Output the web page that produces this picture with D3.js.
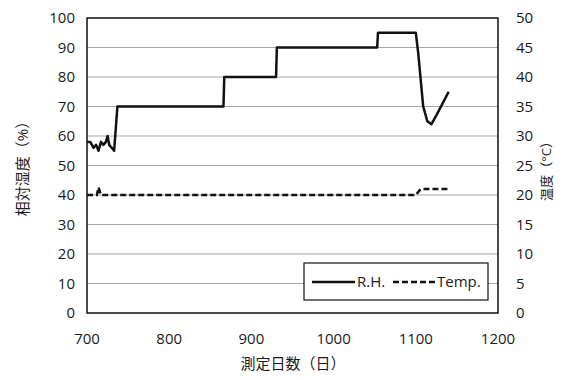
<!DOCTYPE html>
<html>
<head>
<meta charset="utf-8">
<script src="https://cdn.jsdelivr.net/npm/d3@7"></script>
<style>
  body { margin: 0; background: #fff; }
  svg text { font-family: "Open Sans", "Noto Sans CJK JP", sans-serif; fill: #1a1a1a; }
</style>
</head>
<body>
<svg width="568" height="380"></svg>
<script>
// data
const rhDays = [700, 704, 708, 711, 714, 717, 720, 723, 725, 727, 730, 733, 737, 740, 866, 867, 930, 931, 1053, 1054, 1100, 1103, 1109, 1114, 1119, 1125, 1140];
const rhValues = [58, 58, 56, 57, 55, 58, 57, 58, 60, 57, 56, 55, 70, 70, 70, 80, 80, 90, 90, 95, 95, 88, 70, 65, 64, 67, 75];
const tempDays = [700, 712, 714, 717, 720, 1100, 1106, 1140];
const tempValues = [20, 20, 21.3, 20, 20, 20, 21, 21];
const leftTicks = d3.range(0, 101, 10);
const rightTicks = d3.range(0, 51, 5);
const xTicks = [700, 800, 900, 1000, 1100, 1200];

const svg = d3.select("svg");
const pLeft = 87, pRight = 498, pTop = 18, pBottom = 313;

const x = d3.scaleLinear().domain([700, 1200]).range([pLeft, pRight]);
const yL = d3.scaleLinear().domain([0, 100]).range([pBottom, pTop]);
const yR = d3.scaleLinear().domain([0, 50]).range([pBottom, pTop]);

// gridlines
svg.append("g").selectAll("line")
  .data(leftTicks.slice(1, -1))
  .enter().append("line")
  .attr("x1", pLeft).attr("x2", pRight)
  .attr("y1", d => yL(d)).attr("y2", d => yL(d))
  .attr("stroke", "#a6a6a6").attr("stroke-width", 1);

// frame
svg.append("rect")
  .attr("x", pLeft).attr("y", pTop)
  .attr("width", pRight - pLeft).attr("height", pBottom - pTop)
  .attr("fill", "none").attr("stroke", "#111").attr("stroke-width", 1.5);

// tick labels
svg.append("g").selectAll("text")
  .data(leftTicks).enter().append("text")
  .attr("x", 75).attr("y", d => yL(d) + 5)
  .attr("text-anchor", "end").attr("font-size", 15)
  .text(d => d);

svg.append("g").selectAll("text")
  .data(rightTicks).enter().append("text")
  .attr("x", 516).attr("y", d => yR(d) + 5)
  .attr("text-anchor", "start").attr("font-size", 15)
  .text(d => d);

svg.append("g").selectAll("text")
  .data(xTicks).enter().append("text")
  .attr("x", d => x(d)).attr("y", 344)
  .attr("text-anchor", "middle").attr("font-size", 15)
  .text(d => d);

// axis titles
svg.append("text")
  .attr("x", 293).attr("y", 369)
  .attr("text-anchor", "middle").attr("font-size", 15)
  .text("測定日数（日）");

svg.append("text")
  .attr("transform", "translate(28,165) rotate(-90)")
  .attr("text-anchor", "middle").attr("font-size", 15)
  .text("相対湿度（%）");

svg.append("text")
  .attr("transform", "translate(551,168) rotate(-90)")
  .attr("text-anchor", "middle").attr("font-size", 13)
  .text("温度（°C）");

// lines
const rhLine = d3.line().x((d, i) => x(rhDays[i])).y(d => yL(d));
svg.append("path")
  .attr("d", rhLine(rhValues))
  .attr("fill", "none").attr("stroke", "#111").attr("stroke-width", 2.5)
  .attr("stroke-linejoin", "round");

const tempLine = d3.line().x((d, i) => x(tempDays[i])).y(d => yR(d));
svg.append("path")
  .attr("d", tempLine(tempValues))
  .attr("fill", "none").attr("stroke", "#111").attr("stroke-width", 2.5)
  .attr("stroke-dasharray", "6,3");

// legend
const lg = svg.append("g");
lg.append("rect")
  .attr("x", 304).attr("y", 263).attr("width", 184).attr("height", 37)
  .attr("fill", "#fff").attr("stroke", "#111").attr("stroke-width", 1.2);
lg.append("line")
  .attr("x1", 312).attr("x2", 355).attr("y1", 282).attr("y2", 282)
  .attr("stroke", "#111").attr("stroke-width", 2.5);
lg.append("text").attr("x", 357).attr("y", 287).attr("font-size", 15).text("R.H.");
lg.append("line")
  .attr("x1", 393).attr("x2", 435).attr("y1", 282).attr("y2", 282)
  .attr("stroke", "#111").attr("stroke-width", 2.5).attr("stroke-dasharray", "6,3");
lg.append("text").attr("x", 437).attr("y", 287).attr("font-size", 15).text("Temp.");
</script>
</body>
</html>
